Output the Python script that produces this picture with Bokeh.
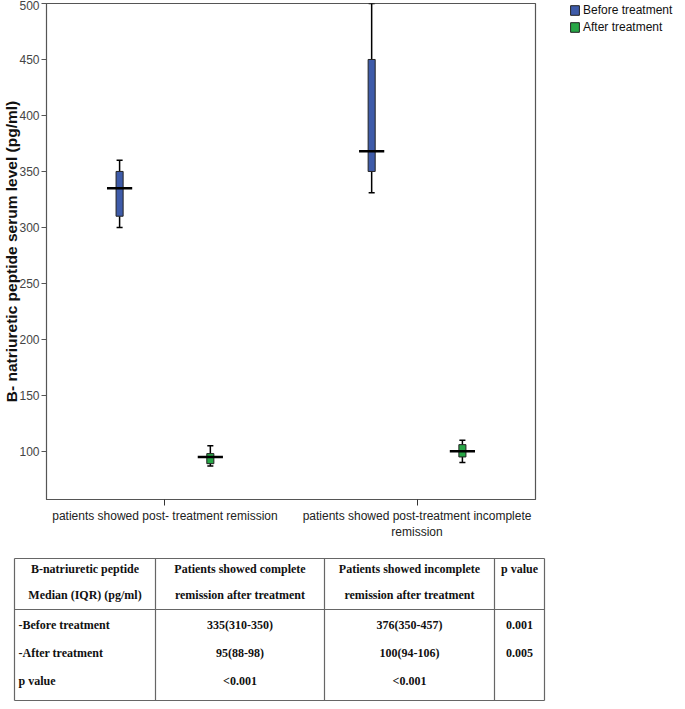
from bokeh.plotting import figure
from bokeh.models import ColumnDataSource, Range1d, FixedTicker, Legend, LegendItem
from bokeh.layouts import row
from bokeh.embed import file_html
from bokeh.resources import INLINE
from bokeh.core.properties import value
from bokeh.transform import dodge

# ---------------- data ----------------
categories = ["patients showed post- treatment remission",
              "patients showed post-treatment incomplete\nremission"]
series = ["Before treatment", "After treatment"]

before_low = [300, 331]
before_q1 = [310, 350]
before_median = [335, 368]
before_q3 = [350, 450]
before_high = [360, 500]

after_low = [87, 90]
after_q1 = [89, 95]
after_median = [95, 100]
after_q3 = [98, 106]
after_high = [105, 110]

y_ticks = [100, 150, 200, 250, 300, 350, 400, 450, 500]
y_label = "B- natriuretic peptide serum level (pg/ml)"

table_headers = [["B-natriuretic peptide", "Median (IQR) (pg/ml)"],
                 ["Patients showed complete", "remission after treatment"],
                 ["Patients showed incomplete", "remission after treatment"],
                 ["p value", ""]]
row_labels = ["-Before treatment", "-After treatment", "p value"]
complete_vals = ["335(310-350)", "95(88-98)", "<0.001"]
incomplete_vals = ["376(350-457)", "100(94-106)", "<0.001"]
p_vals = ["0.001", "0.005", ""]

# ---------------- styles ----------------
BLUE = "#3e5ba9"
GREEN = "#27a646"
SANS = "Liberation Sans"
SERIF = "Liberation Serif"
OFFSET = 0.18
BOX_W = 0.028
CAP_W = 0.024
MED_W = 0.10
colors = [BLUE, GREEN]

cat_x = [i + 0.5 for i in range(len(categories))]

p = figure(width=540, height=542, output_backend="svg", toolbar_location=None,
           x_range=Range1d(0.03, 1.97), y_range=Range1d(57, 500),
           min_border_top=3, min_border_right=5, min_border_left=37,
           min_border_bottom=40)
p.xgrid.visible = False
p.ygrid.visible = False
p.outline_line_color = "#555555"
p.outline_line_width = 1.2
p.background_fill_color = "white"

for name, off, col, lo, q1, med, q3, hi in [
        (series[0], -OFFSET, colors[0], before_low, before_q1, before_median, before_q3, before_high),
        (series[1], OFFSET, colors[1], after_low, after_q1, after_median, after_q3, after_high)]:
    src = ColumnDataSource(dict(x=cat_x, lo=lo, q1=q1, med=med, q3=q3, hi=hi))
    xd = dodge("x", off, range=p.x_range)
    p.segment(x0=xd, x1=xd, y0="lo", y1="q1", source=src, line_color="black", line_width=1.5)
    p.segment(x0=xd, x1=xd, y0="q3", y1="hi", source=src, line_color="black", line_width=1.5)
    p.segment(x0=dodge("x", off - CAP_W / 2, range=p.x_range), x1=dodge("x", off + CAP_W / 2, range=p.x_range),
              y0="lo", y1="lo", source=src, line_color="black", line_width=1.5)
    p.segment(x0=dodge("x", off - CAP_W / 2, range=p.x_range), x1=dodge("x", off + CAP_W / 2, range=p.x_range),
              y0="hi", y1="hi", source=src, line_color="black", line_width=1.5)
    p.vbar(x=xd, width=BOX_W, bottom="q1", top="q3", source=src,
           fill_color=col, line_color="#222222", line_width=1)
    p.segment(x0=dodge("x", off - MED_W / 2, range=p.x_range), x1=dodge("x", off + MED_W / 2, range=p.x_range),
              y0="med", y1="med", source=src, line_color="black", line_width=2.5)

# axes
p.yaxis.ticker = FixedTicker(ticks=y_ticks)
p.yaxis.axis_label = y_label
p.yaxis.axis_label_text_font = SANS
p.yaxis.axis_label_text_font_style = "bold"
p.yaxis.axis_label_text_font_size = "15.5px"
p.yaxis.axis_label_text_color = "#111111"
p.yaxis.axis_label_standoff = -4
p.yaxis.major_label_text_font = SANS
p.yaxis.major_label_text_font_size = "12px"
p.yaxis.major_label_text_color = "#444444"
p.yaxis.major_label_standoff = 2
p.yaxis.major_tick_out = 5
p.yaxis.major_tick_in = 0
p.yaxis.minor_tick_line_color = None
p.yaxis.axis_line_color = "#555555"
p.yaxis.major_tick_line_color = "#555555"

p.xaxis.ticker = FixedTicker(ticks=cat_x)
p.xaxis.major_label_overrides = {x: c for x, c in zip(cat_x, categories)}
p.xaxis.major_label_text_font = SANS
p.xaxis.major_label_text_font_size = "12px"
p.xaxis.major_label_text_color = "#222222"
p.xaxis.major_label_standoff = 3
p.xaxis.major_tick_out = 6
p.xaxis.major_tick_in = 0
p.xaxis.minor_tick_line_color = None
p.xaxis.axis_line_color = "#555555"
p.xaxis.major_tick_line_color = "#333333"

# ---------------- legend panel ----------------
lg = figure(width=137, height=542, output_backend="svg", toolbar_location=None,
            x_range=Range1d(0, 1), y_range=Range1d(0, 1),
            x_axis_location=None, y_axis_location=None,
            min_border_left=29, min_border_right=0, min_border_top=0, min_border_bottom=0)
lg.xgrid.visible = False
lg.ygrid.visible = False
lg.outline_line_color = None
items = []
for name, col in zip(series, colors):
    # off-screen proxy renderer that only feeds the legend swatch
    r = lg.vbar(x=[10], top=[10], bottom=[9], width=0.1, fill_color=col,
                line_color="#222222", line_width=1)
    items.append(LegendItem(label=name, renderers=[r]))
legend = Legend(items=items, location="top_left", orientation="vertical")
legend.border_line_color = None
legend.background_fill_alpha = 0
legend.padding = 0
legend.margin = 0
legend.spacing = 3
legend.glyph_width = 11
legend.glyph_height = 12
legend.label_height = 12
legend.label_standoff = 3
legend.label_text_font = SANS
legend.label_text_font_size = "12px"
legend.label_text_color = "#111111"
lg.add_layout(legend, "center")

# ---------------- table ----------------
TH = 160
t = figure(width=669, height=TH, output_backend="svg", toolbar_location=None,
           x_range=Range1d(0, 669), y_range=Range1d(TH, 0),
           x_axis_location=None, y_axis_location=None,
           min_border=0, min_border_left=0, min_border_right=0,
           min_border_top=0, min_border_bottom=0)
t.xgrid.visible = False
t.ygrid.visible = False
t.outline_line_color = None

col_edges = [14, 155, 324, 494, 544]
top_y, head_y, bot_y = 16, 67, 158
header_rows = [26, 52]
body_rows = [82, 110, 138]

t.segment(x0=[col_edges[0]] * 3, x1=[col_edges[-1]] * 3,
          y0=[top_y, head_y, bot_y], y1=[top_y, head_y, bot_y],
          line_color="#666666", line_width=1.2)
t.segment(x0=col_edges, x1=col_edges, y0=[top_y] * len(col_edges), y1=[bot_y] * len(col_edges),
          line_color="#666666", line_width=1.2)

centers = [(col_edges[i] + col_edges[i + 1]) / 2 for i in range(4)]
hx, hy, htxt = [], [], []
for ci, lines in enumerate(table_headers):
    for li, s in enumerate(lines):
        if s:
            hx.append(centers[ci]); hy.append(header_rows[li]); htxt.append(s)
t.text(x=hx, y=hy, text=htxt, text_font=value(SERIF), text_font_style="bold",
       text_font_size="12px", text_align="center", text_baseline="middle", text_color="#111111")
t.text(x=[col_edges[0] + 4] * len(row_labels), y=body_rows, text=row_labels,
       text_font=value(SERIF), text_font_style="bold", text_font_size="12px",
       text_align="left", text_baseline="middle", text_color="#111111")
for ci, vals in [(1, complete_vals), (2, incomplete_vals), (3, p_vals)]:
    t.text(x=[centers[ci]] * len(vals), y=body_rows, text=vals,
           text_font=value(SERIF), text_font_style="bold", text_font_size="12px",
           text_align="center", text_baseline="middle", text_color="#111111")

open("out.html", "w").write(file_html([row(p, lg, spacing=0), t], INLINE))
